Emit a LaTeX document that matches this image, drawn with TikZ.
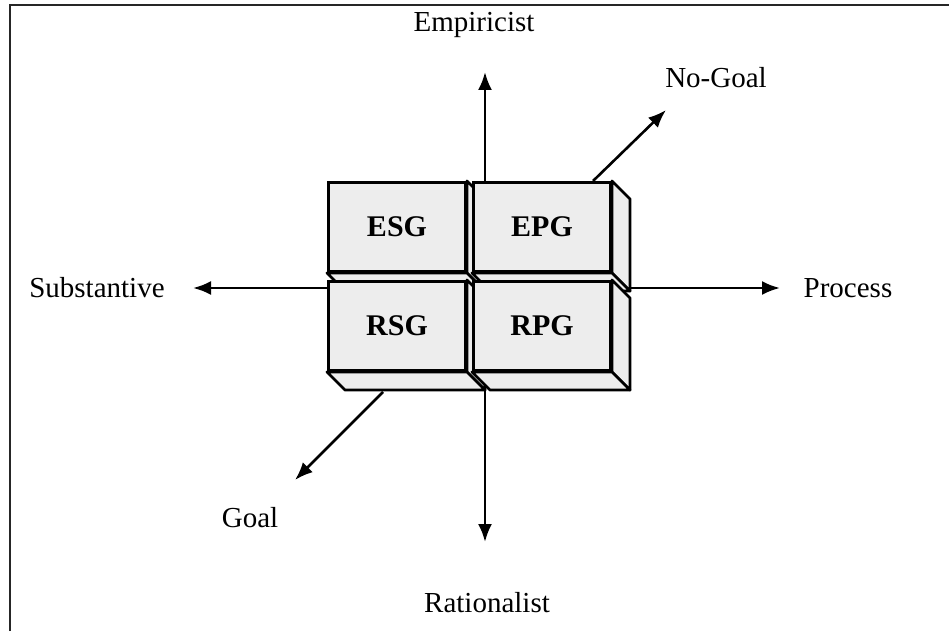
\documentclass[tikz,border=0pt]{standalone}
\usepackage{fontspec}
\setmainfont{Liberation Serif}
\usetikzlibrary{arrows.meta}
\begin{document}
\begin{tikzpicture}[x=1pt, y=-1pt,
                    block/.style={rectangle, draw, line width=3.2pt, fill=black!7,
                                  minimum width=137pt, minimum height=89pt,
                                  inner sep=0pt, font=\fontsize{30pt}{33pt}\bfseries\selectfont},
                    face/.style={draw, line width=2.8pt, fill=black!7, line join=round},
                    axis/.style={line width=2.6pt, -{Latex[length=18pt, width=14pt]}},
                    label/.style={inner sep=0pt},
                    font=\fontsize{29pt}{32pt}\selectfont]
  \useasboundingbox (0, 0) rectangle (949, 631);

  % Frame (only the top and left edges are on the page).
  \draw [line width=2.6pt, black!85] (10, 631) -- (10, 5) -- (949, 5);

  % Axis labels.
  \node at (474, 25) [label, name=Empiricist] {Empiricist};
  \node at (487, 603) [label, name=Rationalist] {Rationalist};
  \node at (97, 288) [label, name=Substantive] {Substantive};
  \node at (848, 288) [label, name=Process] {Process};
  \node at (716, 78) [label, name=NoGoal] {No-Goal};
  \node at (250, 518) [label, name=Goal] {Goal};

  % Crossing point and arrow ends.
  \coordinate (origin) at (485, 288);
  \coordinate (upTip) at (485, 72);
  \coordinate (downTip) at (485, 542);
  \coordinate (leftTip) at (193, 288);
  \coordinate (rightTip) at (780, 288);
  \coordinate (noGoalFoot) at (593, 181);
  \coordinate (noGoalTip) at (666, 110);
  \coordinate (goalFoot) at (383, 392);
  \coordinate (goalTip) at (295, 480);

  % Axes.
  \draw [axis] (origin) -- (upTip);
  \draw [axis] (origin) -- (downTip);
  \draw [axis] (origin) -- (leftTip);
  \draw [axis] (origin) -- (rightTip);

  % Blocks, each with its right and bottom faces.
  \foreach \name/\x/\y in {ESG/397/227, EPG/542/227, RSG/397/326, RPG/542/326} {
    \draw [face] (\x+70, \y-46) -- ++(18, 18) -- ++(0, 92) -- (\x+70, \y+46) -- cycle;
    \draw [face] (\x-70, \y+46) -- ++(18, 18) -- ++(140, 0) -- (\x+70, \y+46) -- cycle;
    \node at (\x, \y) [block, name=\name] {\name};
  }

  % Goal axis.
  \draw [axis] (noGoalFoot) -- (noGoalTip);
  \draw [axis] (goalFoot) -- (goalTip);
\end{tikzpicture}
\end{document}
